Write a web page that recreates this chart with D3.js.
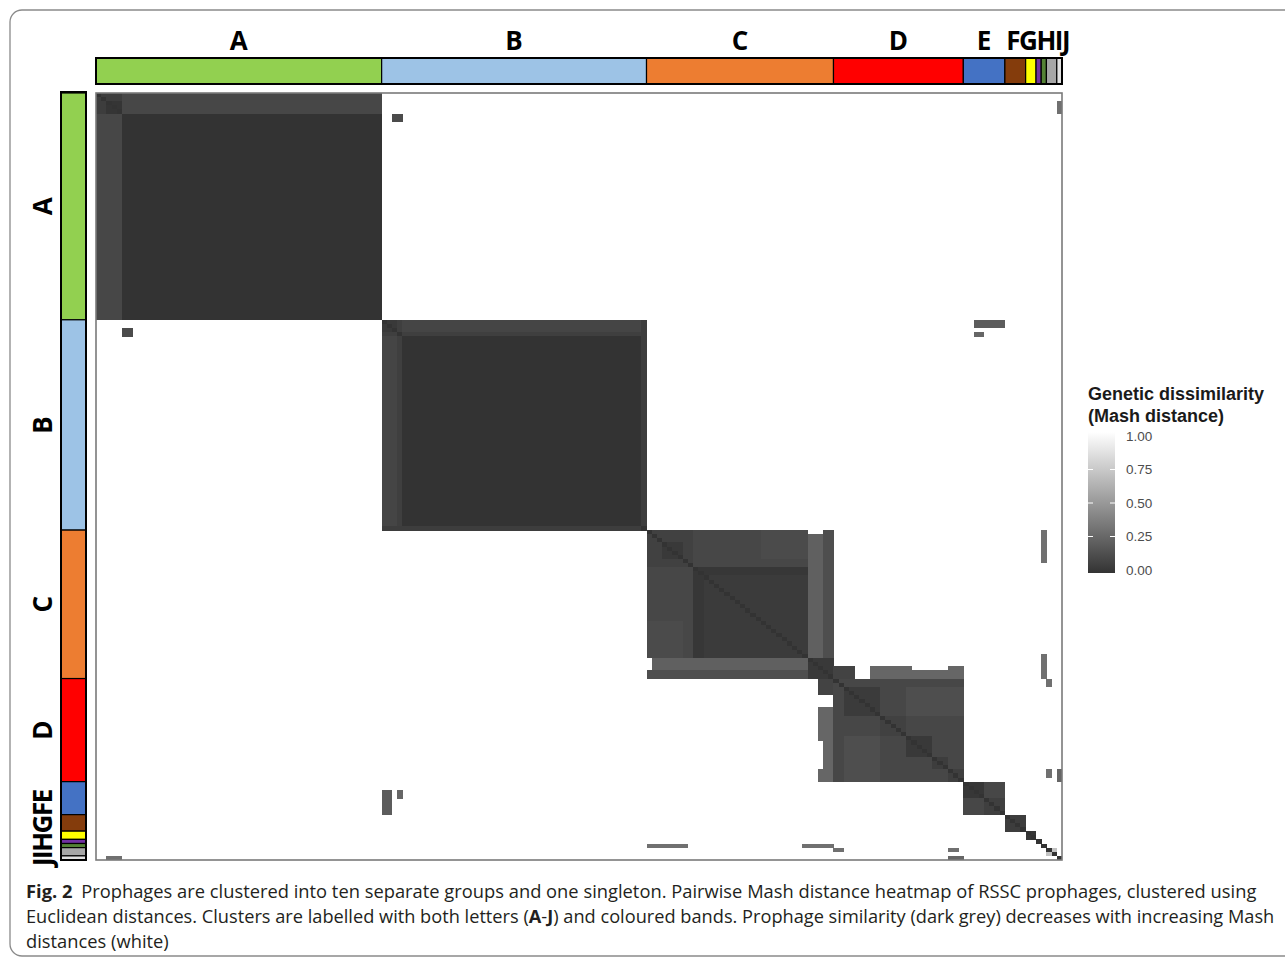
<!DOCTYPE html>
<html>
<head>
<meta charset="utf-8">
<script src="https://cdn.jsdelivr.net/npm/d3@7"></script>
<style>
  body { margin: 0; background: #fff; }
  svg { display: block; }
</style>
</head>
<body>
<svg id="fig" width="1285" height="962"></svg>
<script>
// clusters in heatmap order, "S" is the singleton
const clusters = ["A", "B", "C", "D", "E", "F", "G", "H", "I", "J", "S"];
const clusterSizes = [55, 51, 36, 25, 8, 4, 2, 1, 1, 2, 1];
const clusterColours = ["#92d050", "#9dc3e6", "#ed7d31", "#ff0000", "#4472c4", "#843c0c",
  "#ffff00", "#7030a0", "#548235", "#a6a6a6", "#e0e0e0"];
// mash distance inside each cluster block
const clusterDistance = [0.0, 0.0, 0.06, 0.1, 0.1, 0.05, 0.02, 0, 0, 0.7, 0];

// [row from, row to, col from, col to, mash distance] - mirrored, applied in order
const blocks = [
  [0, 4, 0, 54, 0.1],
  [0, 4, 0, 4, 0.05],
  [2, 4, 2, 4, 0.01],
  [55, 57, 55, 105, 0.09],
  [55, 57, 55, 57, 0.03],
  [58, 58, 55, 105, 0.06],
  [105, 105, 55, 105, 0.05],
  [115, 116, 106, 136, 0.02],
  [106, 114, 106, 136, 0.1],
  [106, 114, 106, 114, 0.07],
  [109, 112, 109, 112, 0.03],
  [117, 136, 117, 136, 0.04],
  [106, 112, 128, 136, 0.12],
  [137, 141, 106, 136, 0.13],
  [137, 139, 106, 136, 0.22],
  [137, 141, 137, 141, 0.03],
  [106, 106, 137, 139, 1],
  [139, 141, 142, 145, 0.08],
  [139, 141, 149, 156, 0.25],
  [140, 141, 157, 163, 0.25],
  [139, 141, 164, 166, 0.25],
  [144, 150, 144, 150, 0.04],
  [151, 155, 151, 155, 0.07],
  [156, 160, 156, 160, 0.03],
  [161, 163, 161, 163, 0.05],
  [164, 166, 164, 166, 0.06],
  [144, 150, 156, 166, 0.13],
  [167, 170, 167, 170, 0.02],
  [171, 174, 171, 174, 0.06],
  [2, 4, 185, 185, 0.3],
  [5, 6, 57, 58, 0.12],
  [55, 56, 169, 174, 0.2],
  [58, 58, 169, 170, 0.25],
  [106, 113, 182, 182, 0.3],
  [136, 141, 182, 182, 0.3],
  [142, 143, 183, 183, 0.3],
  [164, 165, 183, 183, 0.3],
  [164, 166, 185, 185, 0.25]
];

const legendTicks = [0, 0.25, 0.5, 0.75, 1];

const captionLines = [
  [["Fig. 2", true], [" Prophages are clustered into ten separate groups and one singleton. Pairwise Mash distance heatmap of RSSC prophages, clustered using", false]],
  [["Euclidean distances. Clusters are labelled with both letters (", false], ["A", true], ["-", false], ["J", true],
   [") and coloured bands. Prophage similarity (dark grey) decreases with increasing Mash", false]],
  [["distances (white)", false]]
];

// ---- build the distance table
const N = d3.sum(clusterSizes);
const starts = Array.from(d3.cumsum([0, ...clusterSizes])).slice(0, -1);
const dist = Array.from({ length: N }, () => new Array(N).fill(1));

function setBlock(r0, r1, c0, c1, v) {
  for (let i = r0; i <= r1; i++)
    for (let j = c0; j <= c1; j++) {
      dist[i][j] = v;
      dist[j][i] = v;
    }
}
clusters.forEach((c, k) => {
  const s = starts[k], e = s + clusterSizes[k] - 1;
  setBlock(s, e, s, e, clusterDistance[k]);
});
blocks.forEach(b => setBlock(...b));
for (let i = 0; i < N; i++) dist[i][i] = 0;

const cells = [];
for (let i = 0; i < N; i++)
  for (let j = 0; j < N; j++)
    if (dist[i][j] < 1) cells.push({ row: i, col: j, v: dist[i][j] });

const svg = d3.select("#fig");

// frame
svg.append("rect")
  .attr("x", 10).attr("y", 10)
  .attr("width", 1300).attr("height", 946)
  .attr("rx", 12)
  .attr("fill", "none")
  .attr("stroke", "#8a8a8a")
  .attr("stroke-width", 1.3);

const x = d3.scaleBand().domain(d3.range(N)).range([96, 1062]);
const y = d3.scaleBand().domain(d3.range(N)).range([93, 860]);
const colour = d3.scaleLinear().domain([0, 1]).range(["#333333", "#ffffff"]);

svg.append("rect")
  .attr("x", 96).attr("y", 93)
  .attr("width", 966).attr("height", 767)
  .attr("fill", "#fff");

svg.append("g")
  .attr("shape-rendering", "crispEdges")
  .selectAll("rect")
  .data(cells)
  .join("rect")
  .attr("x", d => x(d.col))
  .attr("y", d => y(d.row))
  .attr("width", x.bandwidth() + 0.4)
  .attr("height", y.bandwidth() + 0.4)
  .attr("fill", d => colour(d.v));

svg.append("rect")
  .attr("x", 96).attr("y", 93)
  .attr("width", 966).attr("height", 767)
  .attr("fill", "none")
  .attr("stroke", "#7a7a7a")
  .attr("stroke-width", 1.6);

// ---- cluster bands
const segs = clusters.map((c, k) => ({ name: c, start: starts[k], size: clusterSizes[k], colour: clusterColours[k] }));

const topBand = svg.append("g");
topBand.selectAll("rect")
  .data(segs)
  .join("rect")
  .attr("x", d => x(d.start))
  .attr("y", 58)
  .attr("width", d => x.bandwidth() * d.size)
  .attr("height", 26)
  .attr("fill", d => d.colour)
  .attr("stroke", "#000")
  .attr("stroke-width", 1.2);
topBand.append("rect")
  .attr("x", 96).attr("y", 58).attr("width", 966).attr("height", 26)
  .attr("fill", "none").attr("stroke", "#000").attr("stroke-width", 2);

const leftBand = svg.append("g");
leftBand.selectAll("rect")
  .data(segs)
  .join("rect")
  .attr("x", 61)
  .attr("y", d => y(d.start))
  .attr("width", 25)
  .attr("height", d => y.bandwidth() * d.size)
  .attr("fill", d => d.colour)
  .attr("stroke", "#000")
  .attr("stroke-width", 1.2);
leftBand.append("rect")
  .attr("x", 61).attr("y", 92).attr("width", 25).attr("height", 768)
  .attr("fill", "none").attr("stroke", "#000").attr("stroke-width", 2);

// ---- cluster letters
const labelFont = "'Open Sans', 'DejaVu Sans', sans-serif";
const big = segs.slice(0, 5);

svg.append("g")
  .selectAll("text")
  .data(big)
  .join("text")
  .attr("x", d => x(d.start) + x.bandwidth() * d.size / 2)
  .attr("y", 50)
  .attr("text-anchor", "middle")
  .attr("font-family", labelFont)
  .attr("font-weight", 700)
  .attr("font-size", 26)
  .text(d => d.name);

svg.append("text")
  .attr("x", 1069).attr("y", 50)
  .attr("text-anchor", "end")
  .attr("font-family", labelFont)
  .attr("font-weight", 700)
  .attr("font-size", 26)
  .attr("letter-spacing", -1.5)
  .text(clusters.slice(5, 10).join(""));

svg.append("g")
  .selectAll("text")
  .data(segs.slice(0, 4))
  .join("text")
  .attr("transform", d => `translate(52,${y(d.start) + y.bandwidth() * d.size / 2}) rotate(-90)`)
  .attr("text-anchor", "middle")
  .attr("font-family", labelFont)
  .attr("font-weight", 700)
  .attr("font-size", 26)
  .text(d => d.name);

svg.append("text")
  .attr("transform", "translate(52,866) rotate(-90)")
  .attr("text-anchor", "start")
  .attr("font-family", labelFont)
  .attr("font-weight", 700)
  .attr("font-size", 26)
  .attr("letter-spacing", -1.5)
  .text(clusters.slice(4, 10).reverse().join(""));

// ---- legend
const legendFont = "'Liberation Sans', Arial, sans-serif";
const legend = svg.append("g");
legend.append("text")
  .attr("x", 1088).attr("y", 400)
  .attr("font-family", legendFont).attr("font-weight", 700).attr("font-size", 18)
  .attr("fill", "#1a1a1a")
  .text("Genetic dissimilarity");
legend.append("text")
  .attr("x", 1088).attr("y", 422)
  .attr("font-family", legendFont).attr("font-weight", 700).attr("font-size", 18)
  .attr("fill", "#1a1a1a")
  .text("(Mash distance)");

const ly = d3.scaleLinear().domain([0, 1]).range([570, 436]);

const grad = svg.append("defs").append("linearGradient")
  .attr("id", "mash")
  .attr("x1", 0).attr("y1", 1).attr("x2", 0).attr("y2", 0);
grad.selectAll("stop")
  .data(legendTicks)
  .join("stop")
  .attr("offset", d => d)
  .attr("stop-color", d => colour(d));

legend.append("rect")
  .attr("x", 1088).attr("y", ly(1) - 4)
  .attr("width", 27).attr("height", ly(0) - ly(1) + 7)
  .attr("fill", "url(#mash)");

legend.selectAll("line.tl")
  .data(legendTicks.slice(1, -1))
  .join("line")
  .attr("class", "tl")
  .attr("x1", 1088).attr("x2", 1093)
  .attr("y1", d => ly(d)).attr("y2", d => ly(d))
  .attr("stroke", "#fff").attr("stroke-width", 1);
legend.selectAll("line.tr")
  .data(legendTicks.slice(1, -1))
  .join("line")
  .attr("class", "tr")
  .attr("x1", 1110).attr("x2", 1115)
  .attr("y1", d => ly(d)).attr("y2", d => ly(d))
  .attr("stroke", "#fff").attr("stroke-width", 1);

legend.selectAll("text.tick")
  .data(legendTicks)
  .join("text")
  .attr("class", "tick")
  .attr("x", 1126)
  .attr("y", d => ly(d))
  .attr("dy", "0.35em")
  .attr("font-family", legendFont)
  .attr("font-size", 13.5)
  .attr("fill", "#4d4d4d")
  .text(d => d3.format(".2f")(d));

// ---- caption
const capTargets = [1253, 1275, null];
const capBase = [898, 923, 948];
let k1 = 1;
captionLines.forEach((line, li) => {
  const g = svg.append("g");
  const t = g.append("text")
    .attr("x", 0).attr("y", 0)
    .attr("font-family", "'Open Sans', 'Noto Sans', sans-serif")
    .attr("font-size", 18.5)
    .attr("fill", "#231f20");
  line.forEach(([s, b], pi) => {
    const ts = t.append("tspan").attr("font-weight", b ? 700 : 400).text(s);
    if (li === 0 && pi === 1) ts.attr("dx", 4);
  });
  const w = t.node().getComputedTextLength();
  let k = k1;
  if (capTargets[li]) k = (capTargets[li] - 26) / w;
  if (li === 0) k1 = k;
  g.attr("transform", `translate(26,${capBase[li]}) scale(${k},1)`);
});
</script>
</body>
</html>
